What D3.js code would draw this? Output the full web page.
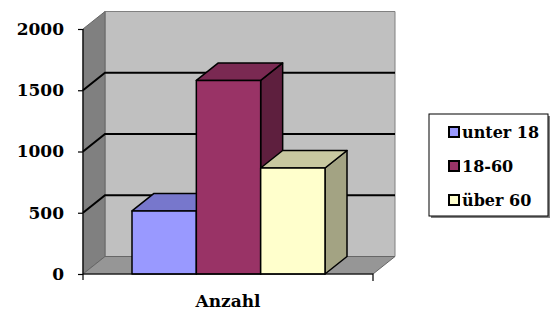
<!DOCTYPE html>
<html lang="de">
<head>
  <meta charset="UTF-8">
  <title>Anzahl</title>
  <script src="https://d3js.org/d3.v7.min.js"></script>
  <style>
    body { margin: 0; background: #fff; }
    svg { display: block; font-family: "DejaVu Serif", serif; font-weight: bold; }
  </style>
</head>
<body>

<svg width="550" height="310"></svg>

<script>
  const categories = ["Anzahl"];
  const series = ["unter 18", "18-60", "über 60"];
  const values = [515, 1580, 865];
  const yTicks = [0, 500, 1000, 1500, 2000];

  const frontColors = ["#9999ff", "#993366", "#ffffcc"];
  const topColors = ["#7777cc", "#7a2952", "#c8c8a0"];
  const sideColors = ["#5c5c99", "#5e1f3e", "#a3a383"];

  const svg = d3.select("svg");
  const dx = 22, dy = -17.5;

  const x0 = d3.scaleBand().domain(categories).range([83, 373]);
  const x = d3.scaleBand().domain(series).range([132, 325]);
  const y = d3.scaleLinear().domain([0, 2000]).range([274, 29]);

  const xl = x0.range()[0], xr = x0.range()[1];
  const pt = (a, b) => `${a},${b}`;

  // walls
  svg.append("polygon")
    .attr("points", [pt(xl + dx, y(2000) + dy), pt(xr + dx, y(2000) + dy), pt(xr + dx, y(0) + dy), pt(xl + dx, y(0) + dy)].join(" "))
    .attr("fill", "#c0c0c0").attr("stroke", "#808080").attr("stroke-width", 1);
  svg.append("polygon")
    .attr("points", [pt(xl, y(2000)), pt(xl + dx, y(2000) + dy), pt(xl + dx, y(0) + dy), pt(xl, y(0))].join(" "))
    .attr("fill", "#808080").attr("stroke", "#666").attr("stroke-width", 1);
  svg.append("polygon")
    .attr("points", [pt(xl, y(0)), pt(xr, y(0)), pt(xr + dx, y(0) + dy), pt(xl + dx, y(0) + dy)].join(" "))
    .attr("fill", "#969696").attr("stroke", "#666").attr("stroke-width", 1);

  // gridlines
  const grid = yTicks.filter(t => t > 0 && t < 2000);
  svg.selectAll(".grid").data(grid).enter().append("polyline")
    .attr("points", d => [pt(xl, y(d)), pt(xl + dx, y(d) + dy), pt(xr + dx, y(d) + dy)].join(" "))
    .attr("fill", "none").attr("stroke", "#000").attr("stroke-width", 2);

  // bars, drawn left to right
  series.forEach((s, i) => {
    const x1 = x(s), x2 = x(s) + x.bandwidth();
    const yt = y(values[i]), yb = y(0);
    const g = svg.append("g").attr("stroke", "#000").attr("stroke-width", 1.5).attr("stroke-linejoin", "round");
    g.append("polygon")
      .attr("points", [pt(x2, yt), pt(x2 + dx, yt + dy), pt(x2 + dx, yb + dy), pt(x2, yb)].join(" "))
      .attr("fill", sideColors[i]);
    g.append("polygon")
      .attr("points", [pt(x1, yt), pt(x1 + dx, yt + dy), pt(x2 + dx, yt + dy), pt(x2, yt)].join(" "))
      .attr("fill", topColors[i]);
    g.append("rect")
      .attr("x", x1).attr("y", yt).attr("width", x.bandwidth()).attr("height", yb - yt)
      .attr("fill", frontColors[i]);
  });

  // axes
  const yAxis = d3.axisLeft(y).tickValues(yTicks).tickFormat(d3.format("d")).tickSize(5).tickPadding(14);
  const ya = svg.append("g").attr("transform", `translate(${xl},0)`).call(yAxis);
  ya.select(".domain").attr("d", `M0,${y(2000)}V${y(0) + 6}`);
  ya.selectAll("line, path").attr("stroke", "#000").attr("stroke-width", 1.2);
  ya.selectAll("text").attr("font-family", "DejaVu Serif").attr("font-weight", "bold")
    .attr("font-size", 17).attr("fill", "#000");

  const xAxis = d3.axisBottom(x0).tickSize(0).tickPadding(21);
  const xa = svg.append("g").attr("transform", `translate(0,${y(0)})`).call(xAxis);
  xa.select(".domain").attr("d", `M${xl},0H${xr}V7`).attr("stroke", "#000").attr("stroke-width", 1.2);
  xa.selectAll("text").attr("font-family", "DejaVu Serif").attr("font-weight", "bold")
    .attr("font-size", 17).attr("fill", "#000");

  // legend
  const lg = svg.append("g").attr("transform", "translate(429,114)");
  lg.append("rect").attr("x", 2).attr("y", 2).attr("width", 119).attr("height", 102).attr("fill", "#808080");
  lg.append("rect").attr("width", 119).attr("height", 102).attr("fill", "#fff").attr("stroke", "#000").attr("stroke-width", 1);
  const li = lg.selectAll(".li").data(series).enter().append("g")
    .attr("transform", (d, i) => `translate(20,${18 + i * 34})`);
  li.append("rect").attr("x", 0).attr("y", -5).attr("width", 10).attr("height", 10)
    .attr("fill", (d, i) => frontColors[i]).attr("stroke", "#000").attr("stroke-width", 2);
  li.append("text").attr("x", 13).attr("y", 0).attr("dy", "0.36em")
    .attr("font-size", 16).text(d => d);
</script>

</body>
</html>
